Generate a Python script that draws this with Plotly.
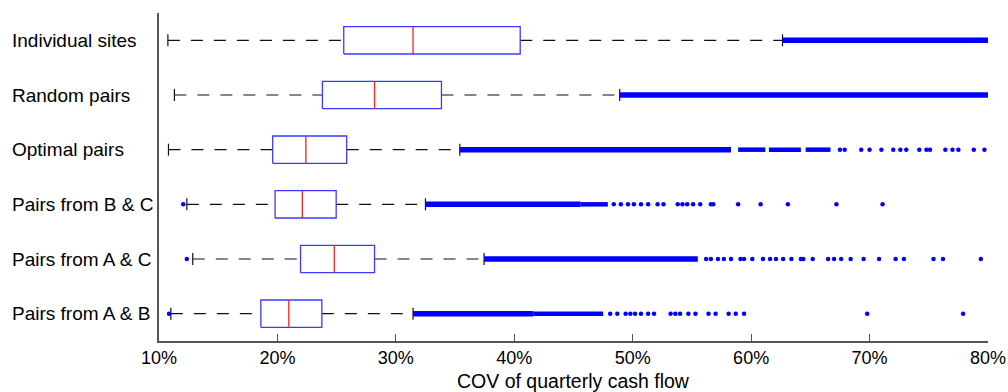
import plotly.graph_objects as go

# ---- data (COV of quarterly cash flow, %) ----
categories = ["Individual sites", "Random pairs", "Optimal pairs",
              "Pairs from B & C", "Pairs from A & C", "Pairs from A & B"]
q1 = [25.6, 23.8, 19.6, 19.8, 21.95, 18.6]
median = [31.45, 28.2, 22.4, 22.1, 24.8, 20.96]
q3 = [40.5, 33.85, 25.85, 24.96, 28.2, 23.75]
whisker_low = [10.75, 11.3, 10.8, 12.35, 12.85, 11.0]
whisker_high = [62.65, 48.9, 35.4, 32.5, 37.45, 31.45]

# dense runs of outliers (start, end)
dense_runs = [
    [(62.65, 80.0)],
    [(48.9, 80.0)],
    [(35.4, 58.3), (58.9, 61.2), (61.5, 64.2), (64.6, 66.7)],
    [(32.5, 45.6), (45.6, 47.9)],
    [(37.45, 55.5)],
    [(31.45, 41.6), (41.6, 47.5)],
]
# individual outliers
outliers = [
    [],
    [],
    [67.5, 67.9, 69.3, 70.0, 71.0, 72.0, 72.6, 73.1, 74.2, 74.8, 75.1,
     76.4, 77.0, 77.5, 78.8, 79.7],
    [12.05, 48.4, 49.0, 49.6, 50.1, 50.7, 51.3, 52.1, 52.6, 53.8, 54.2,
     54.6, 55.1, 55.7, 56.6, 56.8, 58.9, 60.8, 63.1, 67.2, 71.1],
    [12.35, 56.2, 56.6, 57.2, 57.7, 58.3, 59.1, 59.4, 60.1, 61.0, 61.6,
     62.1, 62.7, 63.4, 64.2, 64.4, 65.2, 66.5, 67.0, 67.6, 68.4, 69.5,
     70.8, 72.2, 72.9, 75.4, 76.2, 79.4],
    [10.85, 48.1, 48.7, 49.4, 49.8, 50.2, 50.7, 51.3, 51.8, 53.2, 53.6,
     54.0, 54.7, 55.3, 56.4, 57.0, 58.1, 58.7, 59.4, 69.8, 77.9],
]
tick_values = [10, 20, 30, 40, 50, 60, 70, 80]
tick_labels = ["10%", "20%", "30%", "40%", "50%", "60%", "70%", "80%"]
x_title = "COV of quarterly cash flow"

# ---- figure ----
BLUE = "#0000ff"
FONT = "Liberation Sans, Arial, sans-serif"
half_box = 0.25
half_cap = 0.11
n = len(categories)

fig = go.Figure()
for i, name in enumerate(categories):
    y = n - i
    # whiskers (dashed)
    for a, b in [(whisker_low[i], q1[i]), (q3[i], whisker_high[i])]:
        fig.add_trace(go.Scatter(x=[a, b], y=[y, y], mode="lines",
                                 line=dict(color="#111111", width=1.2, dash="12px,11px"),
                                 hoverinfo="skip", showlegend=False))
    # caps
    for w in [whisker_low[i], whisker_high[i]]:
        fig.add_trace(go.Scatter(x=[w, w], y=[y - half_cap, y + half_cap], mode="lines",
                                 line=dict(color="#111111", width=1.2),
                                 hoverinfo="skip", showlegend=False))
    # dense outlier runs
    for k, (a, b) in enumerate(dense_runs[i]):
        fig.add_trace(go.Scatter(x=[a, b], y=[y, y], mode="lines",
                                 line=dict(color=BLUE, width=5.5 if k == 0 else 4.5),
                                 hoverinfo="skip", showlegend=False))
    # individual outliers
    if outliers[i]:
        fig.add_trace(go.Scatter(x=outliers[i], y=[y] * len(outliers[i]), mode="markers",
                                 marker=dict(color=BLUE, size=4.5, symbol="circle",
                                             line=dict(width=0)),
                                 hoverinfo="skip", showlegend=False))
    # box
    fig.add_trace(go.Scatter(x=[q1[i], q3[i], q3[i], q1[i], q1[i]],
                             y=[y - half_box, y - half_box, y + half_box, y + half_box, y - half_box],
                             mode="lines", fill="toself", fillcolor="white",
                             line=dict(color="#3a3aff", width=1.3),
                             hoverinfo="skip", showlegend=False))
    # median
    fig.add_trace(go.Scatter(x=[median[i], median[i]], y=[y - half_box, y + half_box],
                             mode="lines", line=dict(color="#ff2020", width=1.3),
                             hoverinfo="skip", showlegend=False))
    # category label (left aligned)
    fig.add_annotation(x=0, xref="paper", y=y, yref="y", xshift=-149,
                       xanchor="left", yanchor="middle", text=name, showarrow=False,
                       font=dict(family=FONT, size=19, color="black"))

# x-axis title
fig.add_annotation(x=0.5, xref="paper", y=0, yref="paper", yshift=-40,
                   xanchor="center", yanchor="middle", text=x_title, showarrow=False,
                   font=dict(family=FONT, size=19.5, color="black"))

fig.update_layout(
    width=1008, height=392, autosize=False,
    margin=dict(l=159, r=20, t=13, b=51, pad=0, autoexpand=False),
    paper_bgcolor="white", plot_bgcolor="white",
    font=dict(family=FONT, color="black"),
    xaxis=dict(range=[10, 80], tickvals=tick_values, ticktext=tick_labels,
               showgrid=False, zeroline=False, showline=True, linecolor="#555555",
               linewidth=1.5, ticks="inside", ticklen=7, tickcolor="#555555",
               automargin=False,
               tickfont=dict(size=18, family=FONT)),
    yaxis=dict(range=[0.5, 6.5], showgrid=False, zeroline=False, showline=True,
               automargin=False,
               linecolor="#555555", linewidth=1.5, showticklabels=False, ticks=""),
)

# remove the default page margin so the figure fills the window exactly
fig.write_html("out.html",
               config={"displayModeBar": False},
               post_script="document.body.style.margin='0';"
                           "document.body.style.overflow='hidden';")
